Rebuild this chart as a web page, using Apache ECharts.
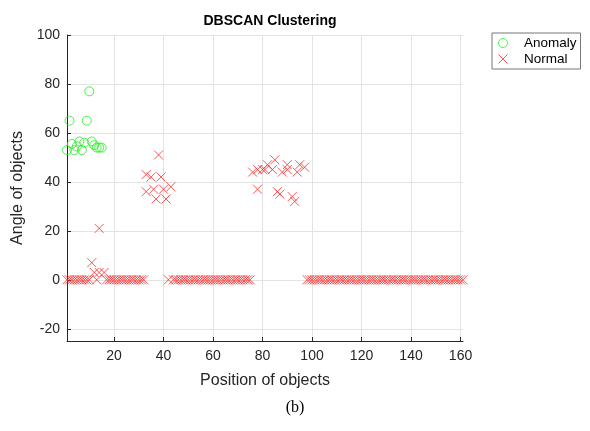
<!DOCTYPE html>
<html>
<head>
    <meta charset="utf-8">
    <title>DBSCAN Clustering</title>
    <script src="https://cdn.jsdelivr.net/npm/echarts@6/dist/echarts.min.js"></script>
    <style>
        html, body { margin: 0; padding: 0; background: #fff; }
        #chart { width: 590px; height: 431px; }
    </style>
</head>
<body>
    <div id="chart"></div>
    <script>
        // anomaly points (green circles)
        const anomalyX = [1, 2, 3, 4, 5, 6, 7, 8, 9, 10, 11, 12, 13, 14, 15];
        const anomalyY = [53, 65, 55.5, 53, 54.5, 56.5, 53, 56, 65, 77, 56.5, 55, 54, 54, 54];

        // normal points (red crosses)
        const normalX = [
            1, 2, 3, 4, 5, 6, 7, 8, 9, 10,
            11, 12, 13, 14, 14, 16,
            17, 18, 19, 20, 21, 22, 23, 24, 25, 26, 27, 28, 29, 30, 31, 32,
            33, 33, 35, 36, 37, 38, 39, 40, 41, 43,
            42,
            44, 45, 46, 47, 48, 49, 50, 51, 52, 53, 54, 55, 56, 57, 58, 59,
            60, 61, 62, 63, 64, 65, 66, 67, 68, 69, 70, 71, 72, 73, 74, 75,
            76, 78, 80, 81, 82, 84, 85, 88, 90, 90, 94, 95, 97, 78, 86, 87, 92, 93,
            98, 99, 100, 101, 102, 103, 104, 105, 106, 107, 108, 109, 110, 111, 112, 113,
            114, 115, 116, 117, 118, 119, 120, 121, 122, 123, 124, 125, 126, 127, 128, 129,
            130, 131, 132, 133, 134, 135, 136, 137, 138, 139, 140, 141, 142, 143, 144, 145,
            146, 147, 148, 149, 150, 151, 152, 153, 154, 155, 156, 157, 158, 159, 160, 161
        ];
        const normalY = [
            0, 0, 0, 0, 0, 0, 0, 0, 0, 0,
            7, 3, 0, 21, 3, 3,
            0, 0, 0, 0, 0, 0, 0, 0, 0, 0, 0, 0, 0, 0, 0, 0,
            36, 43, 42, 37, 33, 51, 42, 37, 33, 38,
            0,
            0, 0, 0, 0, 0, 0, 0, 0, 0, 0, 0, 0, 0, 0, 0, 0,
            0, 0, 0, 0, 0, 0, 0, 0, 0, 0, 0, 0, 0, 0, 0, 0,
            44, 45, 45, 45, 47, 45, 49, 44, 47, 45, 44, 47, 46, 37, 36, 35, 34, 32,
            0, 0, 0, 0, 0, 0, 0, 0, 0, 0, 0, 0, 0, 0, 0, 0,
            0, 0, 0, 0, 0, 0, 0, 0, 0, 0, 0, 0, 0, 0, 0, 0,
            0, 0, 0, 0, 0, 0, 0, 0, 0, 0, 0, 0, 0, 0, 0, 0,
            0, 0, 0, 0, 0, 0, 0, 0, 0, 0, 0, 0, 0, 0, 0, 0
        ];

        // tick labels
        const xTicks = [20, 40, 60, 80, 100, 120, 140, 160];
        const yTicks = [-20, 0, 20, 40, 60, 80, 100];

        const font = 'Liberation Sans, Arial, sans-serif';
        const axisColor = '#262626';
        const crossPath = 'path://M0,0L10,10M10,0L0,10';

        function pairs(xs, ys) {
            return xs.map((x, i) => [x, ys[i]]);
        }

        const chart = echarts.init(document.getElementById('chart'), null, { renderer: 'canvas' });

        const option = {
            backgroundColor: '#fff',
            animation: false,
            title: {
                text: 'DBSCAN Clustering',
                left: 265,
                textAlign: 'center',
                top: 9,
                textStyle: { fontFamily: font, fontSize: 14, fontWeight: 'bold', color: '#000' }
            },
            legend: {
                orient: 'vertical',
                left: 492,
                top: 33,
                padding: [3, 4, 3, 6],
                itemGap: 2,
                itemWidth: 20,
                itemHeight: 9,
                borderColor: '#777',
                borderWidth: 1,
                backgroundColor: '#fff',
                itemStyle: { borderWidth: 1 },
                textStyle: { fontFamily: font, fontSize: 13.5, color: '#000', padding: [0, 0, 0, 6] },
                data: ['Anomaly', 'Normal']
            },
            grid: { left: 67, right: 127, top: 35, bottom: 90 },
            xAxis: {
                type: 'value',
                min: 1,
                max: 161,
                name: 'Position of objects',
                nameLocation: 'middle',
                nameGap: 32,
                nameTextStyle: { fontFamily: font, fontSize: 16, color: axisColor },
                axisLine: { onZero: false, lineStyle: { color: axisColor, width: 1 } },
                axisTick: { inside: true, length: 4, customValues: xTicks, lineStyle: { color: axisColor } },
                axisLabel: { customValues: xTicks, margin: 8, fontFamily: font, fontSize: 14, color: axisColor },
                splitLine: { show: true, lineStyle: { color: '#e3e3e3', width: 1 } }
            },
            yAxis: {
                type: 'value',
                min: -25,
                max: 100,
                name: 'Angle of objects',
                nameLocation: 'middle',
                nameGap: 35,
                nameTextStyle: { fontFamily: font, fontSize: 16, color: axisColor },
                axisLine: { show: true, onZero: false, lineStyle: { color: axisColor, width: 1 } },
                axisTick: { show: true, inside: true, length: 4, customValues: yTicks, lineStyle: { color: axisColor } },
                axisLabel: { customValues: yTicks, margin: 7, fontFamily: font, fontSize: 14, color: axisColor },
                splitLine: { show: true, lineStyle: { color: '#e3e3e3', width: 1 } }
            },
            series: [
                {
                    name: 'Anomaly',
                    type: 'scatter',
                    symbol: 'circle',
                    symbolSize: 9,
                    clip: false,
                    itemStyle: { color: 'rgba(0,0,0,0)', borderColor: '#22ee22', borderWidth: 1 },
                    data: pairs(anomalyX, anomalyY)
                },
                {
                    name: 'Normal',
                    type: 'scatter',
                    symbol: crossPath,
                    symbolSize: 9,
                    clip: false,
                    itemStyle: { color: 'rgba(0,0,0,0)', borderColor: '#ff2a2a', borderWidth: 1 },
                    data: pairs(normalX, normalY)
                }
            ],
            graphic: [
                {
                    type: 'text',
                    left: 'center',
                    top: 400,
                    style: { text: '(b)', font: '16px "Liberation Serif", "Times New Roman", serif', fill: '#000' }
                }
            ]
        };

        chart.setOption(option);
    </script>
</body>
</html>
